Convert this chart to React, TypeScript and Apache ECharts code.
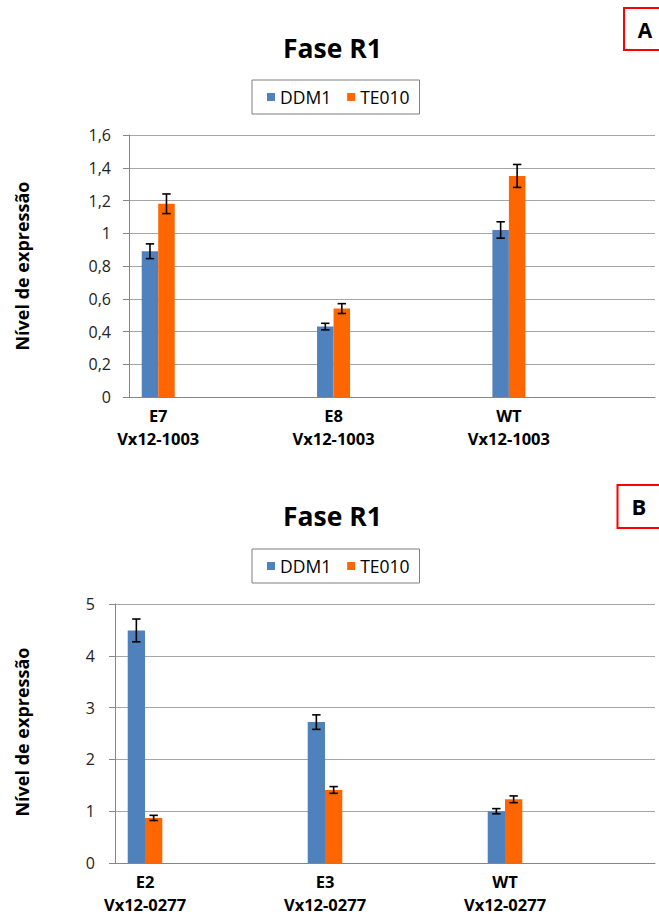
import React, { useEffect, useRef } from 'react';
import * as echarts from 'echarts';

const FONT = '"Open Sans", "DejaVu Sans", sans-serif';

// Panel A
const topCategories = ['E7\nVx12-1003', 'E8\nVx12-1003', 'WT\nVx12-1003'];
const topDDM1 = [0.89, 0.43, 1.02];
const topDDM1Err = [0.045, 0.02, 0.05];
const topTE010 = [1.18, 0.54, 1.35];
const topTE010Err = [0.06, 0.03, 0.07];

// Panel B
const bottomCategories = ['E2\nVx12-0277', 'E3\nVx12-0277', 'WT\nVx12-0277'];
const bottomDDM1 = [4.49, 2.72, 1.0];
const bottomDDM1Err = [0.22, 0.14, 0.05];
const bottomTE010 = [0.87, 1.41, 1.23];
const bottomTE010Err = [0.05, 0.065, 0.065];

const seriesNames = ['DDM1', 'TE010'];
const colors = ['#4F81BD', '#FF6600'];
const titleText = 'Fase R1';
const yTitle = 'Nível de expressão';

function fmtComma(v: number) {
  return String(Math.round(v * 10) / 10).replace('.', ',');
}

function errorSeries(g: number, vals: number[], errs: number[], offset: number) {
  return {
    type: 'custom',
    xAxisIndex: g,
    yAxisIndex: g,
    z: 10,
    silent: true,
    encode: { x: 0, y: [1, 2] },
    data: vals.map((v, i) => [i, v - errs[i], v + errs[i]]),
    renderItem: (params: any, api: any) => {
      const x = api.value(0);
      const a = api.coord([x, api.value(1)]);
      const b = api.coord([x, api.value(2)]);
      const cx = a[0] + offset;
      const hw = 4.2;
      const style = { stroke: '#000', lineWidth: 1.6 };
      return {
        type: 'group',
        children: [
          { type: 'line', shape: { x1: cx, y1: a[1], x2: cx, y2: b[1] }, style },
          { type: 'line', shape: { x1: cx - hw, y1: a[1], x2: cx + hw, y2: a[1] }, style },
          { type: 'line', shape: { x1: cx - hw, y1: b[1], x2: cx + hw, y2: b[1] }, style },
        ],
      };
    },
  };
}

function panelSeries(g: number, ddm: number[], ddmErr: number[], te: number[], teErr: number[], bw: number) {
  return [
    {
      name: seriesNames[0],
      type: 'bar',
      xAxisIndex: g,
      yAxisIndex: g,
      barWidth: bw,
      barGap: '0%',
      itemStyle: { color: colors[0] },
      data: ddm.map((v, i) => [i, v]),
    },
    {
      name: seriesNames[1],
      type: 'bar',
      xAxisIndex: g,
      yAxisIndex: g,
      barWidth: bw,
      barGap: '0%',
      itemStyle: { color: colors[1] },
      data: te.map((v, i) => [i, v]),
    },
    errorSeries(g, ddm, ddmErr, -bw / 2),
    errorSeries(g, te, teErr, bw / 2),
  ];
}

function xAxisDef(g: number, cats: string[]) {
  return {
    type: 'value',
    gridIndex: g,
    min: -1 / 6,
    max: 17 / 6,
    axisLine: { show: true, onZero: false, lineStyle: { color: '#868686', width: 1 } },
    axisTick: { show: false },
    splitLine: { show: false },
    axisLabel: {
      customValues: [0, 1, 2],
      formatter: (v: number) => cats[Math.round(v)] ?? '',
      color: '#000',
      fontFamily: FONT,
      fontWeight: 'bold',
      fontSize: 16.5,
      lineHeight: 23,
      margin: 7,
    },
  };
}

function yAxisDef(g: number, max: number, interval: number, margin: number) {
  return {
    type: 'value',
    gridIndex: g,
    min: 0,
    max,
    interval,
    axisLine: { show: true, onZero: false, lineStyle: { color: '#868686', width: 1 } },
    axisTick: { show: true, length: 6, lineStyle: { color: '#868686' } },
    splitLine: { show: true, lineStyle: { color: '#a6a6a6', width: 1 } },
    axisLabel: {
      formatter: (v: number) => fmtComma(v),
      color: '#222',
      fontFamily: FONT,
      fontSize: 16,
      margin,
    },
  };
}

function legendDef(top: number) {
  return {
    data: seriesNames,
    left: 252,
    top,
    icon: 'rect',
    itemWidth: 8,
    itemHeight: 8,
    itemGap: 16,
    padding: [8, 10, 8, 15],
    borderColor: '#7f7f7f',
    borderWidth: 1,
    textStyle: { color: '#000', fontFamily: FONT, fontSize: 17.5 },
    selectedMode: false,
  };
}

export default function App() {
  const ref = useRef<HTMLDivElement>(null);
  useEffect(() => {
    const chart = echarts.init(ref.current!, null, { renderer: 'svg' });
    const option: any = {
      animation: false,
      backgroundColor: '#fff',
      title: [
        {
          text: titleText,
          left: 283,
          top: 34,
          padding: 0,
          textStyle: { fontFamily: FONT, fontWeight: 'bold', fontSize: 26.5, color: '#000' },
        },
        {
          text: titleText,
          left: 283,
          top: 502,
          padding: 0,
          textStyle: { fontFamily: FONT, fontWeight: 'bold', fontSize: 26.5, color: '#000' },
        },
      ],
      legend: [legendDef(80), legendDef(549)],
      grid: [
        { left: 129, top: 135, width: 526, height: 262, containLabel: false },
        { left: 115, top: 604, width: 540, height: 262, containLabel: false },
      ],
      xAxis: [xAxisDef(0, topCategories), xAxisDef(1, bottomCategories)],
      yAxis: [yAxisDef(0, 1.6, 0.2, 18), yAxisDef(1, 5, 1, 20)],
      series: [
        ...panelSeries(0, topDDM1, topDDM1Err, topTE010, topTE010Err, 16.5),
        ...panelSeries(1, bottomDDM1, bottomDDM1Err, bottomTE010, bottomTE010Err, 17.3),
      ],
      graphic: [
        {
          type: 'text',
          x: 22,
          y: 266,
          rotation: Math.PI / 2,
          style: { text: yTitle, font: `bold 18px ${FONT}`, fill: '#000', textAlign: 'center', textVerticalAlign: 'middle' },
        },
        {
          type: 'text',
          x: 22,
          y: 732,
          rotation: Math.PI / 2,
          style: { text: yTitle, font: `bold 18px ${FONT}`, fill: '#000', textAlign: 'center', textVerticalAlign: 'middle' },
        },
        {
          type: 'rect',
          shape: { x: 624, y: 8, width: 60, height: 42 },
          style: { fill: '#fff', stroke: '#ff0000', lineWidth: 2 },
        },
        {
          type: 'text',
          x: 645,
          y: 30,
          style: { text: 'A', font: `bold 21px ${FONT}`, fill: '#000', textAlign: 'center', textVerticalAlign: 'middle' },
        },
        {
          type: 'rect',
          shape: { x: 617.5, y: 485, width: 60, height: 43 },
          style: { fill: '#fff', stroke: '#ff0000', lineWidth: 2 },
        },
        {
          type: 'text',
          x: 639,
          y: 506,
          style: { text: 'B', font: `bold 22px ${FONT}`, fill: '#000', textAlign: 'center', textVerticalAlign: 'middle' },
        },
      ],
    };
    chart.setOption(option);
    return () => chart.dispose();
  }, []);
  return <div ref={ref} style={{ position: 'absolute', left: 0, top: 0, width: 659, height: 916 }} />;
}
